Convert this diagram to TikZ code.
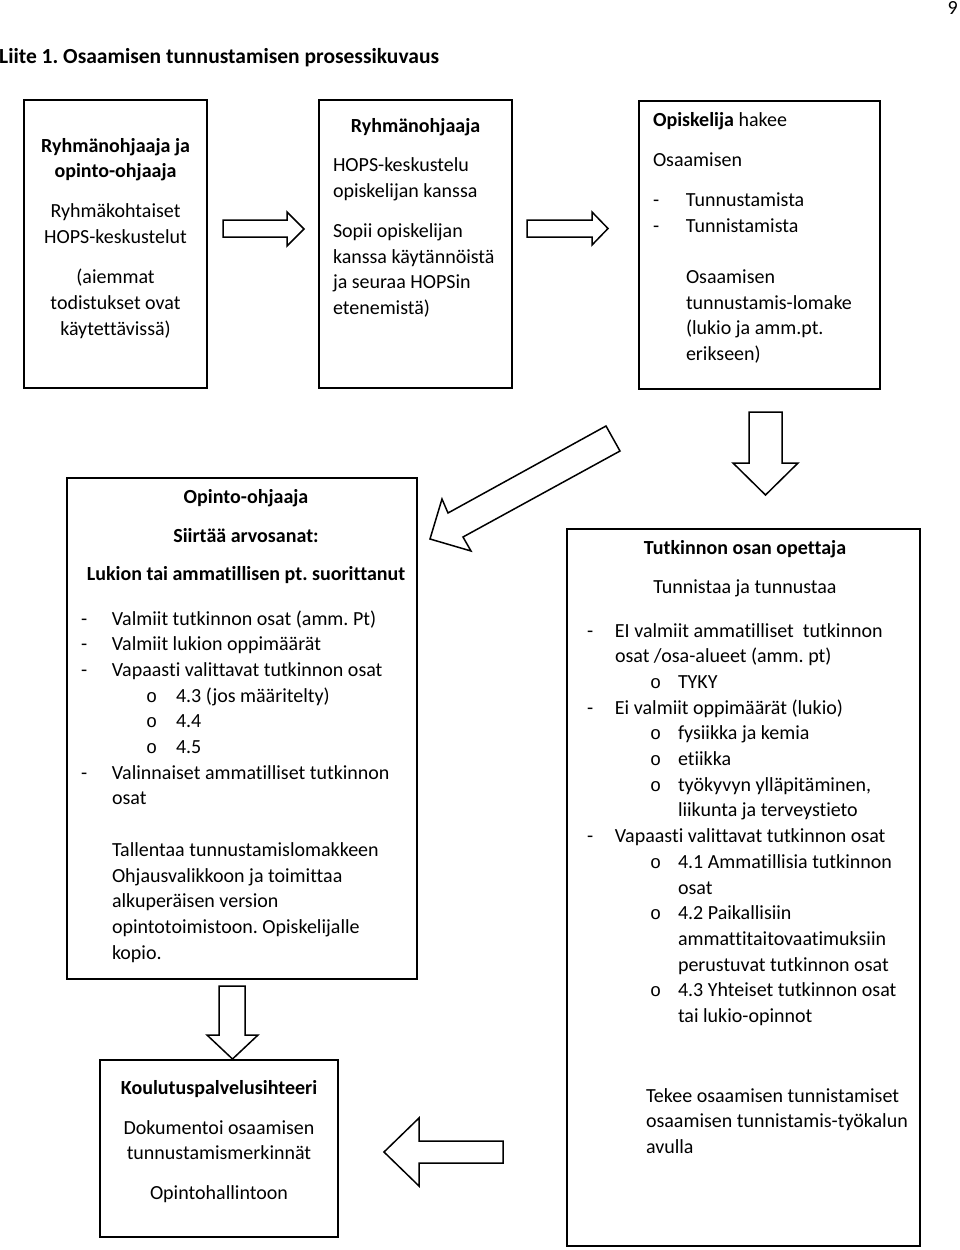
\documentclass[tikz,border=0pt]{standalone}
\usepackage{fontspec}
\setmainfont{Carlito}[Ligatures={NoCommon}]
\newfontfamily\bulfont{Liberation Mono}
\frenchspacing
\newcommand{\fsz}{\fontsize{20}{25.7}\selectfont}
\newcommand{\dsh}[1]{\makebox[#1][l]{-}}
\newcommand{\bul}[2]{\hspace*{#1}\makebox[#2][l]{\bulfont\fontsize{18.5}{18.5}\selectfont o}}
\newcommand{\ind}[1]{\hspace*{#1}}
\newcommand{\st}{\rule{0pt}{20pt}}
\begin{document}
\begin{tikzpicture}[x=1pt,y=-1pt,
  boxnode/.style={draw=black, line width=1.8pt, rectangle, inner sep=0pt, outer sep=0pt, anchor=north west},
  blockarrow/.style={draw=black, line width=1.5pt, fill=white, line join=miter},
  txtl/.style={inner sep=0pt, outer sep=0pt, font=\fsz, align=left, anchor=north west},
  txtc/.style={inner sep=0pt, outer sep=0pt, font=\fsz, align=center, anchor=north}]
\useasboundingbox (0,0) rectangle (960,1250);
\fill[white] (0,0) rectangle (960,1250);

% page number and title
\node[inner sep=0pt, font=\fsz, anchor=base east] (pagenum) at (958,14) {9};
\node[inner sep=0pt, font=\fontsize{21.5}{25}\selectfont\bfseries, anchor=base west] (title) at (-1,63) {Liite 1. Osaamisen tunnustamisen prosessikuvaus};

% boxes
\node[boxnode, minimum width=183pt, minimum height=288pt] (b1) at (24,100) {};
\node[boxnode, minimum width=193pt, minimum height=288pt] (b2) at (319,100) {};
\node[boxnode, minimum width=241pt, minimum height=288pt] (b3) at (639,101) {};
\node[boxnode, minimum width=350pt, minimum height=501pt] (b4) at (67,478) {};
\node[boxnode, minimum width=353pt, minimum height=717pt] (b5) at (567,529) {};
\node[boxnode, minimum width=238pt, minimum height=177pt] (b6) at (100,1060) {};

% box 1
\node[txtc] (t1) at (115.5,132) {\st\textbf{Ryhmänohjaaja ja}\\ \textbf{opinto-ohjaaja}\\[14.5pt] Ryhmäkohtaiset\\ HOPS-keskustelut\\[14.5pt] (aiemmat\\ todistukset ovat\\ käytettävissä)};

% box 2
\node[txtc] (t2a) at (415.5,112) {\st\textbf{Ryhmänohjaaja}};
\node[txtl] (t2b) at (333,151.5) {\st HOPS-keskustelu\\ opiskelijan kanssa\\[14.5pt] Sopii opiskelijan\\ kanssa käytännöistä\\ ja seuraa HOPSin\\ etenemistä)};

% box 3
\node[txtl] (t3) at (653,106) {\st\textbf{Opiskelija} hakee\\[14.5pt] Osaamisen\\[14.5pt] \dsh{33pt}Tunnustamista\\ \dsh{33pt}Tunnistamista\\[25.7pt] \ind{33pt}Osaamisen\\ \ind{33pt}tunnustamis-lomake\\ \ind{33pt}(lukio ja amm.pt.\\ \ind{33pt}erikseen)};

% box 4
\node[txtc] (t4a) at (246,483) {\st\textbf{Opinto-ohjaaja}\\[13.3pt] \textbf{Siirtää arvosanat:}\\[12.3pt] \textbf{Lukion tai ammatillisen pt. suorittanut}};
\node[txtl] (t4b) at (81,605) {\st\dsh{31pt}Valmiit tutkinnon osat (amm. Pt)\\
\dsh{31pt}Valmiit lukion oppimäärät\\
\dsh{31pt}Vapaasti valittavat tutkinnon osat\\
\bul{65pt}{30pt}4.3 (jos määritelty)\\
\bul{65pt}{30pt}4.4\\
\bul{65pt}{30pt}4.5\\
\dsh{31pt}Valinnaiset ammatilliset tutkinnon\\
\ind{31pt}osat\\[25.7pt]
\ind{31pt}Tallentaa tunnustamislomakkeen\\
\ind{31pt}Ohjausvalikkoon ja toimittaa\\
\ind{31pt}alkuperäisen version\\
\ind{31pt}opintotoimistoon. Opiskelijalle\\
\ind{31pt}kopio.};

% box 5
\node[txtc] (t5a) at (745,534) {\st\textbf{Tutkinnon osan opettaja}\\[13.3pt] Tunnistaa ja tunnustaa};
\node[txtl] (t5b) at (587,617) {\st\dsh{28pt}EI valmiit ammatilliset\ \ tutkinnon\\
\ind{28pt}osat /osa-alueet (amm. pt)\\
\bul{63pt}{28pt}TYKY\\
\dsh{28pt}Ei valmiit oppimäärät (lukio)\\
\bul{63pt}{28pt}fysiikka ja kemia\\
\bul{63pt}{28pt}etiikka\\
\bul{63pt}{28pt}työkyvyn ylläpitäminen,\\
\ind{91pt}liikunta ja terveystieto\\
\dsh{28pt}Vapaasti valittavat tutkinnon osat\\
\bul{63pt}{28pt}4.1 Ammatillisia tutkinnon\\
\ind{91pt}osat\\
\bul{63pt}{28pt}4.2 Paikallisiin\\
\ind{91pt}ammattitaitovaatimuksiin\\
\ind{91pt}perustuvat tutkinnon osat\\
\bul{63pt}{28pt}4.3 Yhteiset tutkinnon osat\\
\ind{91pt}tai lukio-opinnot};
\node[txtl] (t5c) at (646,1082) {\st Tekee osaamisen tunnistamiset\\ osaamisen tunnistamis-työkalun\\ avulla};

% box 6
\node[txtc] (t6) at (219,1074) {\st\textbf{Koulutuspalvelusihteeri}\\[14.3pt] Dokumentoi osaamisen\\ tunnustamismerkinnät\\[14.3pt] Opintohallintoon};

% block arrows
\draw[blockarrow] (223,220) -- (287,220) -- (287,212) -- (304,229) -- (287,246) -- (287,237) -- (223,237) -- cycle;
\draw[blockarrow] (527,220) -- (592,220) -- (592,212) -- (608,228.5) -- (592,245) -- (592,237) -- (527,237) -- cycle;
\draw[blockarrow] (749,412) -- (782,412) -- (782,463) -- (798,463) -- (765.5,495) -- (733,463) -- (749,463) -- cycle;
\draw[blockarrow] (606,426) -- (620,451) -- (463,537) -- (471,551) -- (430,539) -- (442,499) -- (448,513) -- cycle;
\draw[blockarrow] (219,986) -- (245,986) -- (245,1035) -- (258,1035) -- (232.5,1059) -- (207,1035) -- (219,1035) -- cycle;
\draw[blockarrow] (503,1141) -- (419,1141) -- (419,1118) -- (384,1152) -- (419,1186) -- (419,1163) -- (503,1163) -- cycle;
\end{tikzpicture}
\end{document}
